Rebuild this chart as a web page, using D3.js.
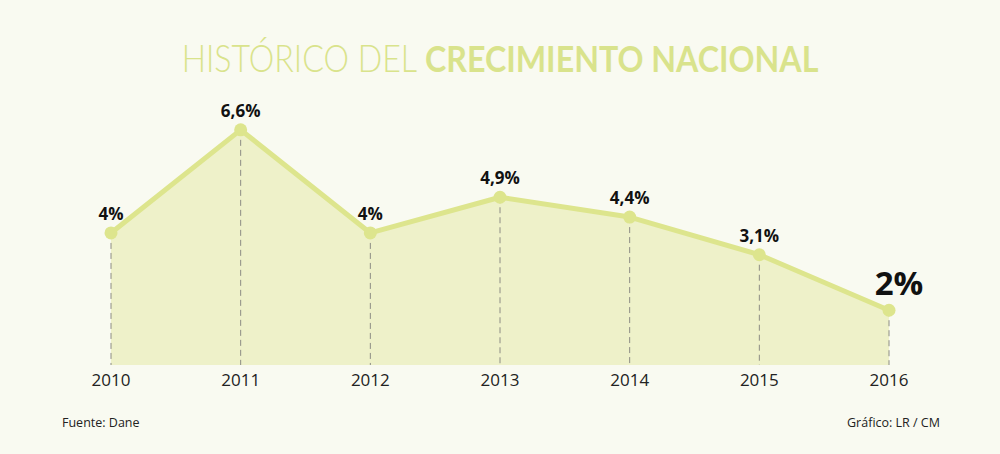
<!DOCTYPE html>
<html>
<head>
<meta charset="utf-8">
<script src="https://cdn.jsdelivr.net/npm/d3@7"></script>
<style>
  body { margin: 0; background: #f9faf1; }
  svg { display: block; font-family: "Open Sans", "Noto Sans", sans-serif; }
</style>
</head>
<body>
<div id="chart"></div>
<script>
const years = ["2010", "2011", "2012", "2013", "2014", "2015", "2016"]
const growth = [4, 6.6, 4, 4.9, 4.4, 3.45, 2.05]
const labels = ["4%", "6,6%", "4%", "4,9%", "4,4%", "3,1%", "2%"]

const width = 1000
const height = 454
const baseY = 365

const svg = d3.select("#chart")
    .append("svg")
    .attr("width", width)
    .attr("height", height)

svg.append("rect")
    .attr("width", width)
    .attr("height", height)
    .attr("fill", "#f9faf1")

const x = d3.scalePoint()
    .domain(years)
    .range([111, 889])

const y = d3.scaleLinear()
    .domain([0, 7])
    .range([391.5, 114])

const data = years.map((d, i) => ({year: d, value: growth[i], label: labels[i]}))

// title, squeezed a bit to mimic a narrower face
const title = svg.append("text")
    .attr("transform", "translate(" + width / 2 + ",72) scale(0.87,1)")
    .attr("text-anchor", "middle")
    .attr("fill", "#d9e38c")
    .style("font-family", "Lato, 'Open Sans', sans-serif")
    .style("font-size", "37px")
title.append("tspan").text("HISTÓRICO DEL ").style("font-weight", 300)
title.append("tspan").text("CRECIMIENTO NACIONAL").style("font-weight", 700)

const area = d3.area()
    .x(d => x(d.year))
    .y0(baseY)
    .y1(d => y(d.value))

svg.append("path")
    .datum(data)
    .attr("d", area)
    .attr("fill", "#eef1c9")

// dashed guides
svg.selectAll("line.guide")
    .data(data)
    .enter()
    .append("line")
    .attr("class", "guide")
    .attr("x1", d => x(d.year))
    .attr("x2", d => x(d.year))
    .attr("y1", d => y(d.value))
    .attr("y2", baseY)
    .attr("stroke", "#8c8c84")
    .attr("stroke-width", 1)
    .attr("stroke-dasharray", "6,4")

const line = d3.line()
    .x(d => x(d.year))
    .y(d => y(d.value))

svg.append("path")
    .datum(data)
    .attr("d", line)
    .attr("fill", "none")
    .attr("stroke", "#dde58d")
    .attr("stroke-width", 5)
    .attr("stroke-linejoin", "round")

svg.selectAll("circle")
    .data(data)
    .enter()
    .append("circle")
    .attr("cx", d => x(d.year))
    .attr("cy", d => y(d.value))
    .attr("r", 6.5)
    .attr("fill", "#dde58d")

// value labels
svg.selectAll("text.val")
    .data(data)
    .enter()
    .append("text")
    .attr("class", "val")
    .attr("x", (d, i) => x(d.year) + (i === data.length - 1 ? 10 : 0))
    .attr("y", (d, i) => y(d.value) - (i === data.length - 1 ? 15 : 13))
    .attr("text-anchor", "middle")
    .attr("fill", "#111")
    .style("font-weight", 700)
    .style("font-size", (d, i) => i === data.length - 1 ? "33px" : "17px")
    .text(d => d.label)

// year labels
svg.selectAll("text.year")
    .data(data)
    .enter()
    .append("text")
    .attr("class", "year")
    .attr("x", d => x(d.year))
    .attr("y", 386)
    .attr("text-anchor", "middle")
    .attr("fill", "#222")
    .style("font-size", "17px")
    .text(d => d.year)

svg.append("text")
    .attr("x", 62)
    .attr("y", 427)
    .attr("fill", "#222")
    .style("font-size", "12.5px")
    .text("Fuente: Dane")

svg.append("text")
    .attr("x", 940)
    .attr("y", 427)
    .attr("text-anchor", "end")
    .attr("fill", "#222")
    .style("font-size", "12.5px")
    .text("Gráfico: LR / CM")
</script>
</body>
</html>
